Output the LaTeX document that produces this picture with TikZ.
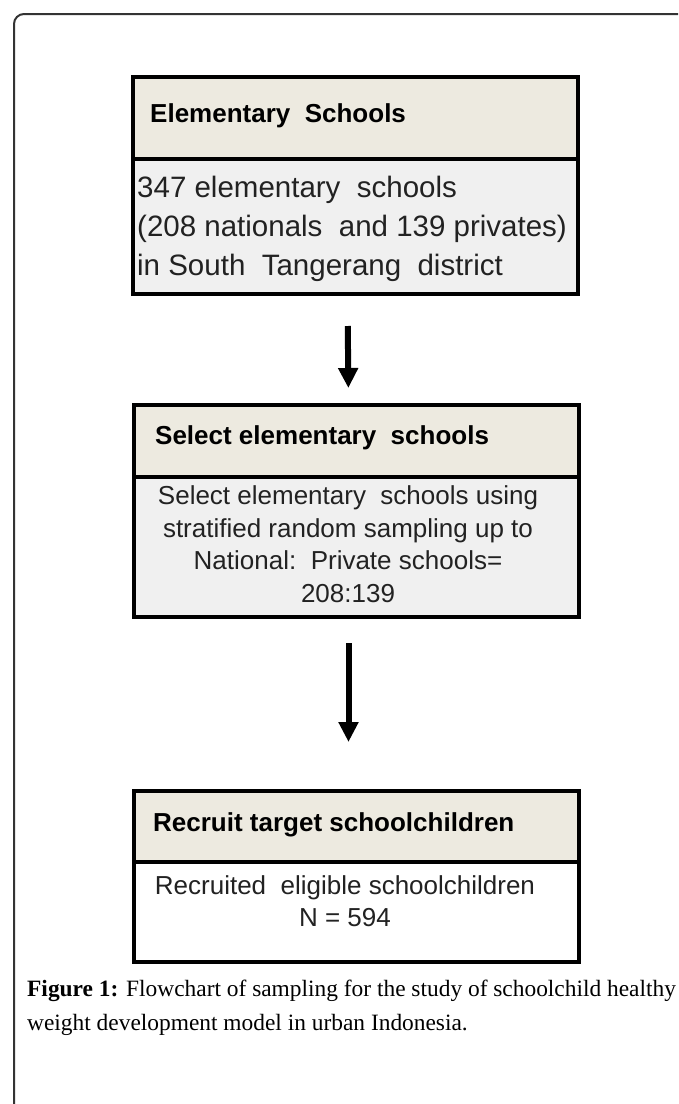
\documentclass[tikz,border=0pt]{standalone}
\usepackage{fontspec}
\setmainfont{Liberation Serif}
\newfontfamily\boxfont{Liberation Sans}
\usetikzlibrary{arrows.meta}
\definecolor{hdrfill}{HTML}{EDEAE0}
\definecolor{bodyfill}{HTML}{F0F0F0}
\definecolor{framecol}{HTML}{333333}
\definecolor{textcol}{HTML}{222222}
\begin{document}
\begin{tikzpicture}[x=1pt,y=-1pt,
  boxpart/.style={draw=black, line width=4pt, rectangle, anchor=north west, inner sep=0pt, minimum width=445pt},
  hdr/.style={boxpart, fill=hdrfill},
  body/.style={boxpart, fill=bodyfill},
  hdrtext/.style={anchor=west, inner sep=0pt, text=black, font=\boxfont\bfseries\fontsize{26}{31}\selectfont},
  bodytext/.style={inner sep=0pt, text=textcol, align=center, font=\boxfont\fontsize{26}{32.5}\selectfont},
  arr/.style={line width=6pt, -{Triangle[width=19pt,length=20pt]}},
  caption/.style={anchor=base west, inner sep=0pt, font=\fontsize{23.4}{30}\selectfont}
]
\useasboundingbox (0,0) rectangle (678,1104);

% outer frame, open to the right and at the bottom
\draw[framecol, line width=2pt, rounded corners=10pt] (14,1104) -- (14,14) -- (678,14);

% box 1
\node[hdr, minimum height=82pt] (h1) at (131,75) {};
\node[body, minimum height=135pt] (b1) at (131,157) {};
\node[hdrtext] (h1t) at (150,116) {Elementary\ \ Schools};
\node[bodytext, anchor=west, align=left, font=\boxfont\fontsize{29.5}{39}\selectfont] (b1t) at (137,229)
  {347 elementary\ \ schools\\(208 nationals\ \ and 139 privates)\\in South\ \ Tangerang\ \ district};

% box 2
\node[hdr, minimum height=72pt] (h2) at (132,403) {};
\node[body, minimum height=140pt] (b2) at (132,475) {};
\node[hdrtext] (h2t) at (155,438) {Select elementary\ \ schools};
\node[bodytext] (b2t) at (348,544)
  {Select elementary\ \ schools using\\stratified random sampling up to\\National:\ \ Private schools=\\208:139};

% box 3
\node[hdr, minimum height=71pt] (h3) at (132,789) {};
\node[body, fill=white, minimum height=100pt] (b3) at (132,860) {};
\node[hdrtext] (h3t) at (153,825) {Recruit target schoolchildren};
\node[bodytext] (b3t) at (345,901)
  {Recruited\ \ eligible schoolchildren\\N = 594};

% connectors
\draw[arr, shorten <=30pt, shorten >=15pt] ([xshift=-8pt]b1.south) -- ([xshift=-8pt]h2.north);
\draw[arr, shorten <=24pt, shorten >=47pt] ([xshift=-8pt]b2.south) -- ([xshift=-8pt]h3.north);

% caption
\node[caption] (cap1) at (27,996) {\textbf{Figure 1:} Flowchart of sampling for the study of schoolchild healthy};
\node[caption] (cap2) at (27,1030) {weight development model in urban Indonesia.};
\end{tikzpicture}
\end{document}
